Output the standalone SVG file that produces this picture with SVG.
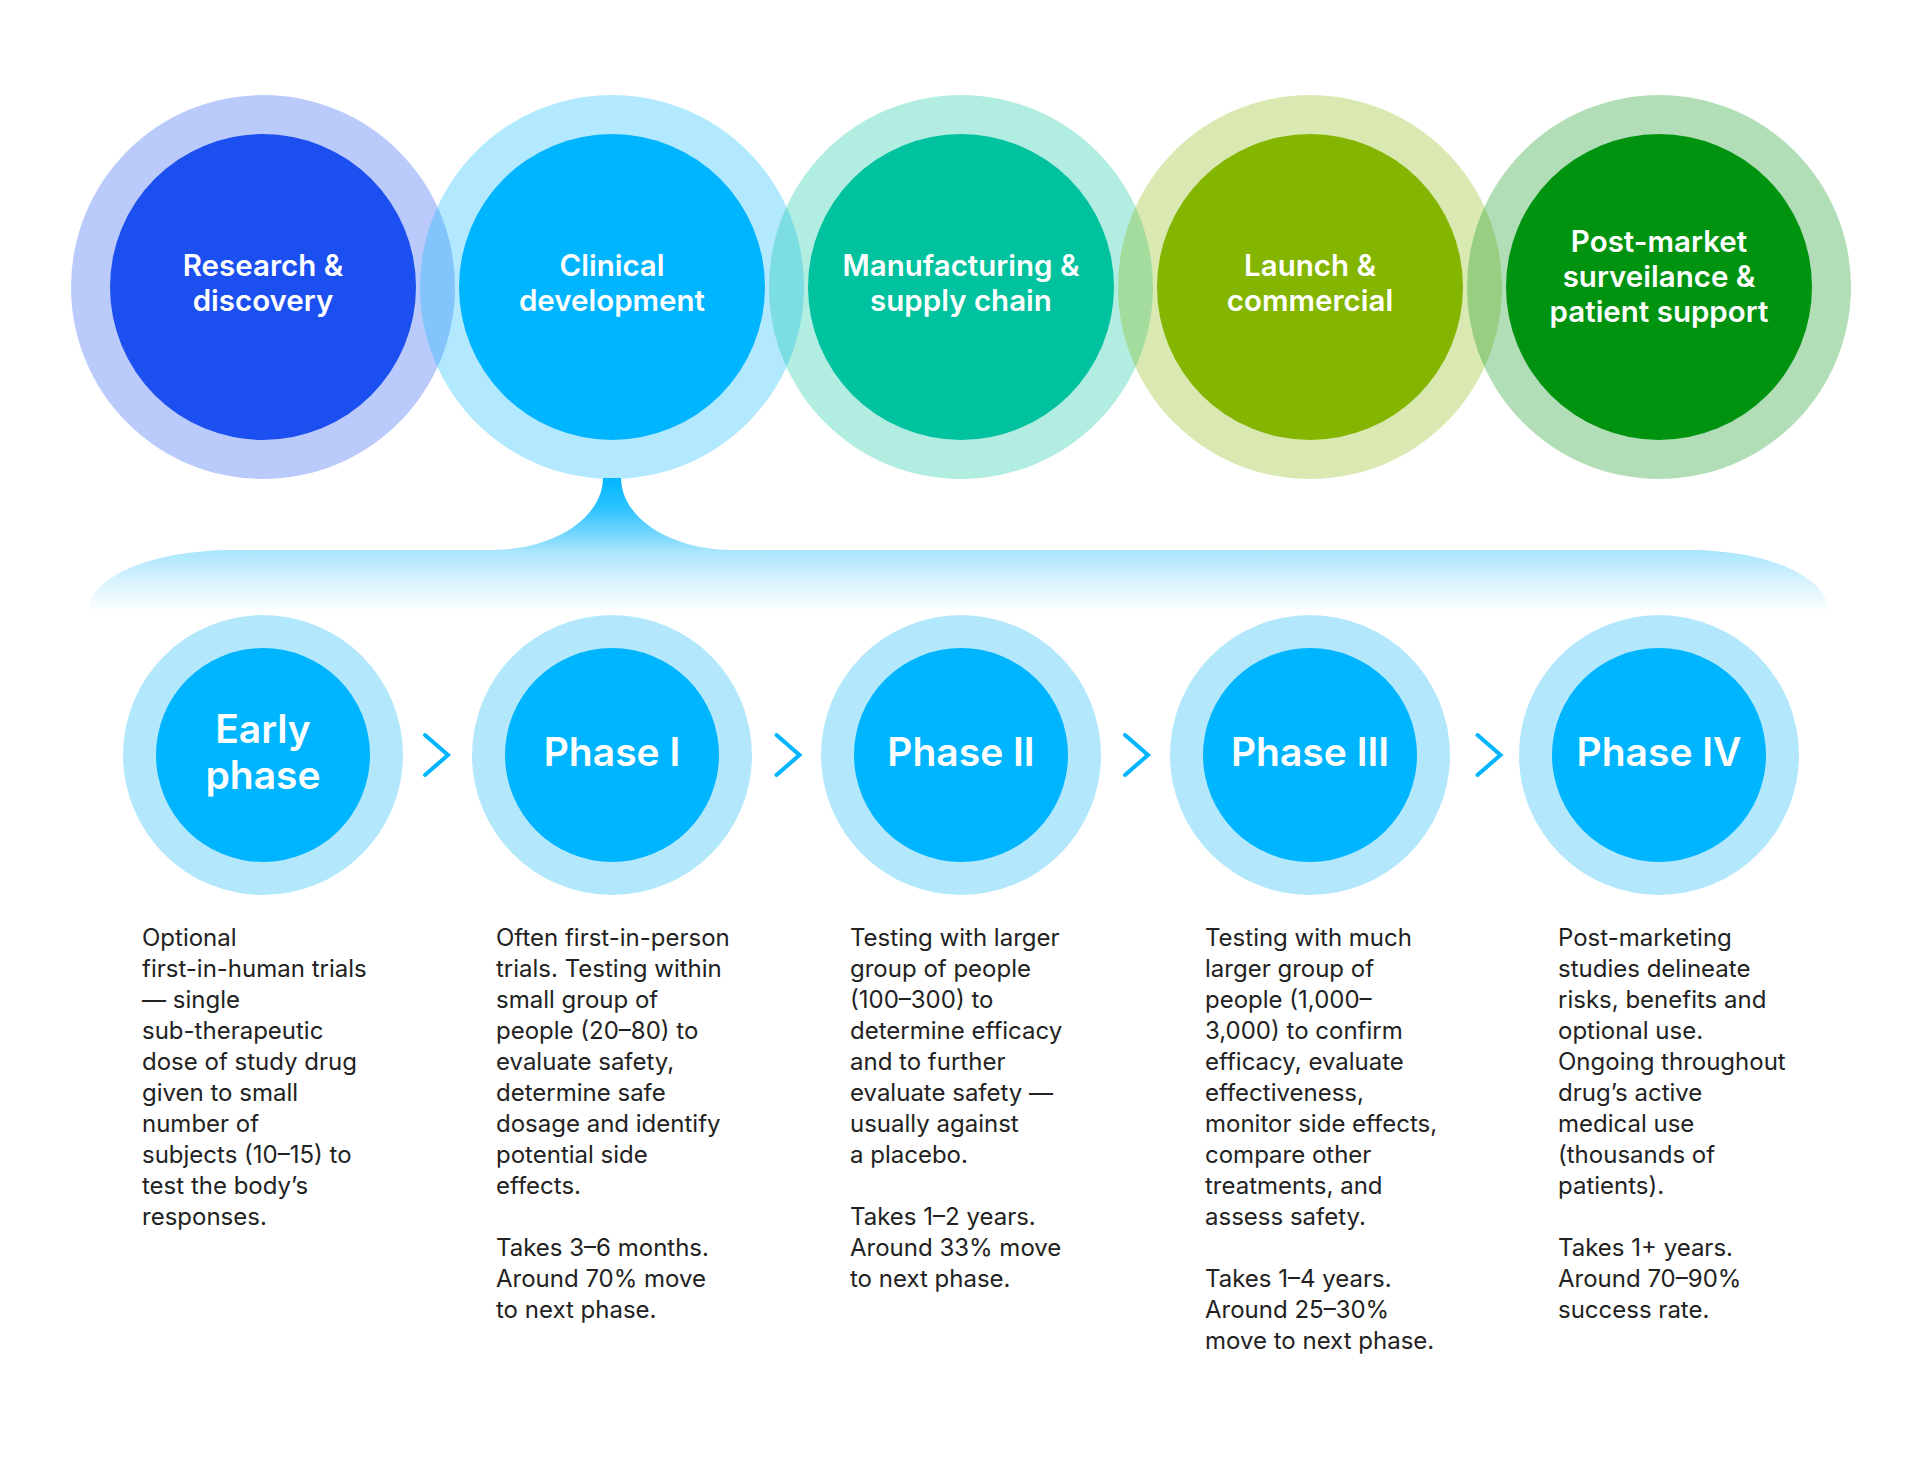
<svg xmlns="http://www.w3.org/2000/svg" width="1920" height="1480" viewBox="0 0 1920 1480">
<defs>
<linearGradient id="stemGrad" gradientUnits="userSpaceOnUse" x1="0" y1="479" x2="0" y2="612">
<stop offset="0" stop-color="#00b5ff"/>
<stop offset="0.23" stop-color="#30c4ff"/>
<stop offset="0.48" stop-color="#8edcfd"/>
<stop offset="0.54" stop-color="#a8e5fd"/>
<stop offset="0.76" stop-color="#d6f2fe"/>
<stop offset="1" stop-color="#ffffff"/>
</linearGradient>
</defs>
<style>
.halo{opacity:0.3}
.top-label{font-family:Inter,"Noto Sans",sans-serif;font-weight:600;font-size:29.5px;fill:#ffffff;text-anchor:middle}
.phase-label{font-family:Inter,"Noto Sans",sans-serif;font-weight:600;font-size:39px;fill:#ffffff;text-anchor:middle}
.desc{font-family:Inter,"Noto Sans",sans-serif;font-weight:400;font-size:24px;fill:#222222}
.chev{fill:none;stroke:#00b5ff;stroke-width:4;stroke-linecap:round;stroke-linejoin:miter}
.phase-outer{fill:#b3e8fc}
.phase-inner{fill:#00b5ff}
</style>
<rect width="1920" height="1480" fill="#ffffff"/>

<g id="stage-halos">
<circle class="halo" cx="263" cy="287" r="192" fill="#1c4fef"/>
<circle class="halo" cx="612" cy="287" r="192" fill="#00b5ff"/>
<circle class="halo" cx="961" cy="287" r="192" fill="#00c29e"/>
<circle class="halo" cx="1310" cy="287" r="192" fill="#84b500"/>
<circle class="halo" cx="1659" cy="287" r="192" fill="#00930f"/>
</g>

<g id="research-discovery">
<circle cx="263" cy="287" r="153" fill="#1c4fef"/>
<text class="top-label" x="263" y="276">Research &amp;</text>
<text class="top-label" x="263" y="311">discovery</text>
</g>
<g id="clinical-development">
<circle cx="612" cy="287" r="153" fill="#00b5ff"/>
<text class="top-label" x="612" y="276">Clinical</text>
<text class="top-label" x="612" y="311">development</text>
</g>
<g id="manufacturing-supply">
<circle cx="961" cy="287" r="153" fill="#00c29e"/>
<text class="top-label" x="961" y="276">Manufacturing &amp;</text>
<text class="top-label" x="961" y="311">supply chain</text>
</g>
<g id="launch-commercial">
<circle cx="1310" cy="287" r="153" fill="#84b500"/>
<text class="top-label" x="1310" y="276">Launch &amp;</text>
<text class="top-label" x="1310" y="311">commercial</text>
</g>
<g id="post-market">
<circle cx="1659" cy="287" r="153" fill="#00930f"/>
<text class="top-label" x="1659" y="252">Post-market</text>
<text class="top-label" x="1659" y="287">surveilance &amp;</text>
<text class="top-label" x="1659" y="322">patient support</text>
</g>

<g id="connectors">
<path d="M603,478 A111,72 0 0 1 490,550 L232,550 A143,60 0 0 0 89,610 L1828,610 A138,60 0 0 0 1690,550 L733,550 A111,72 0 0 1 621,478 Z" fill="url(#stemGrad)"/>
<path class="chev" d="M425,735 L448,755 L425,775"/>
<path class="chev" d="M776.5,735 L799.5,755 L776.5,775"/>
<path class="chev" d="M1125,735 L1148,755 L1125,775"/>
<path class="chev" d="M1477.5,735 L1500.5,755 L1477.5,775"/>
</g>

<g id="early-phase">
<circle class="phase-outer" cx="263" cy="755" r="140"/>
<circle class="phase-inner" cx="263" cy="755" r="107"/>
<text class="phase-label" x="263" y="743">Early</text>
<text class="phase-label" x="263" y="789">phase</text>
<text class="desc">
<tspan x="142" y="946">Optional</tspan>
<tspan x="142" y="977">first-in-human trials</tspan>
<tspan x="142" y="1008">— single</tspan>
<tspan x="142" y="1039">sub-therapeutic</tspan>
<tspan x="142" y="1070">dose of study drug</tspan>
<tspan x="142" y="1101">given to small</tspan>
<tspan x="142" y="1132">number of</tspan>
<tspan x="142" y="1163">subjects (10–15) to</tspan>
<tspan x="142" y="1194">test the body’s</tspan>
<tspan x="142" y="1225">responses.</tspan>
</text>
</g>

<g id="phase-1">
<circle class="phase-outer" cx="612" cy="755" r="140"/>
<circle class="phase-inner" cx="612" cy="755" r="107"/>
<text class="phase-label" x="612" y="766">Phase I</text>
<text class="desc">
<tspan x="496" y="946">Often first-in-person</tspan>
<tspan x="496" y="977">trials. Testing within</tspan>
<tspan x="496" y="1008">small group of</tspan>
<tspan x="496" y="1039">people (20–80) to</tspan>
<tspan x="496" y="1070">evaluate safety,</tspan>
<tspan x="496" y="1101">determine safe</tspan>
<tspan x="496" y="1132">dosage and identify</tspan>
<tspan x="496" y="1163">potential side</tspan>
<tspan x="496" y="1194">effects.</tspan>
<tspan x="496" y="1256">Takes 3–6 months.</tspan>
<tspan x="496" y="1287">Around 70% move</tspan>
<tspan x="496" y="1318">to next phase.</tspan>
</text>
</g>

<g id="phase-2">
<circle class="phase-outer" cx="961" cy="755" r="140"/>
<circle class="phase-inner" cx="961" cy="755" r="107"/>
<text class="phase-label" x="961" y="766">Phase II</text>
<text class="desc">
<tspan x="850" y="946">Testing with larger</tspan>
<tspan x="850" y="977">group of people</tspan>
<tspan x="850" y="1008">(100–300) to</tspan>
<tspan x="850" y="1039">determine efficacy</tspan>
<tspan x="850" y="1070">and to further</tspan>
<tspan x="850" y="1101">evaluate safety —</tspan>
<tspan x="850" y="1132">usually against</tspan>
<tspan x="850" y="1163">a placebo.</tspan>
<tspan x="850" y="1225">Takes 1–2 years.</tspan>
<tspan x="850" y="1256">Around 33% move</tspan>
<tspan x="850" y="1287">to next phase.</tspan>
</text>
</g>

<g id="phase-3">
<circle class="phase-outer" cx="1310" cy="755" r="140"/>
<circle class="phase-inner" cx="1310" cy="755" r="107"/>
<text class="phase-label" x="1310" y="766">Phase III</text>
<text class="desc">
<tspan x="1205" y="946">Testing with much</tspan>
<tspan x="1205" y="977">larger group of</tspan>
<tspan x="1205" y="1008">people (1,000–</tspan>
<tspan x="1205" y="1039">3,000) to confirm</tspan>
<tspan x="1205" y="1070">efficacy, evaluate</tspan>
<tspan x="1205" y="1101">effectiveness,</tspan>
<tspan x="1205" y="1132">monitor side effects,</tspan>
<tspan x="1205" y="1163">compare other</tspan>
<tspan x="1205" y="1194">treatments, and</tspan>
<tspan x="1205" y="1225">assess safety.</tspan>
<tspan x="1205" y="1287">Takes 1–4 years.</tspan>
<tspan x="1205" y="1318">Around 25–30%</tspan>
<tspan x="1205" y="1349">move to next phase.</tspan>
</text>
</g>

<g id="phase-4">
<circle class="phase-outer" cx="1659" cy="755" r="140"/>
<circle class="phase-inner" cx="1659" cy="755" r="107"/>
<text class="phase-label" x="1659" y="766">Phase IV</text>
<text class="desc">
<tspan x="1558" y="946">Post-marketing</tspan>
<tspan x="1558" y="977">studies delineate</tspan>
<tspan x="1558" y="1008">risks, benefits and</tspan>
<tspan x="1558" y="1039">optional use.</tspan>
<tspan x="1558" y="1070">Ongoing throughout</tspan>
<tspan x="1558" y="1101">drug’s active</tspan>
<tspan x="1558" y="1132">medical use</tspan>
<tspan x="1558" y="1163">(thousands of</tspan>
<tspan x="1558" y="1194">patients).</tspan>
<tspan x="1558" y="1256">Takes 1+ years.</tspan>
<tspan x="1558" y="1287">Around 70–90%</tspan>
<tspan x="1558" y="1318">success rate.</tspan>
</text>
</g>
</svg>
